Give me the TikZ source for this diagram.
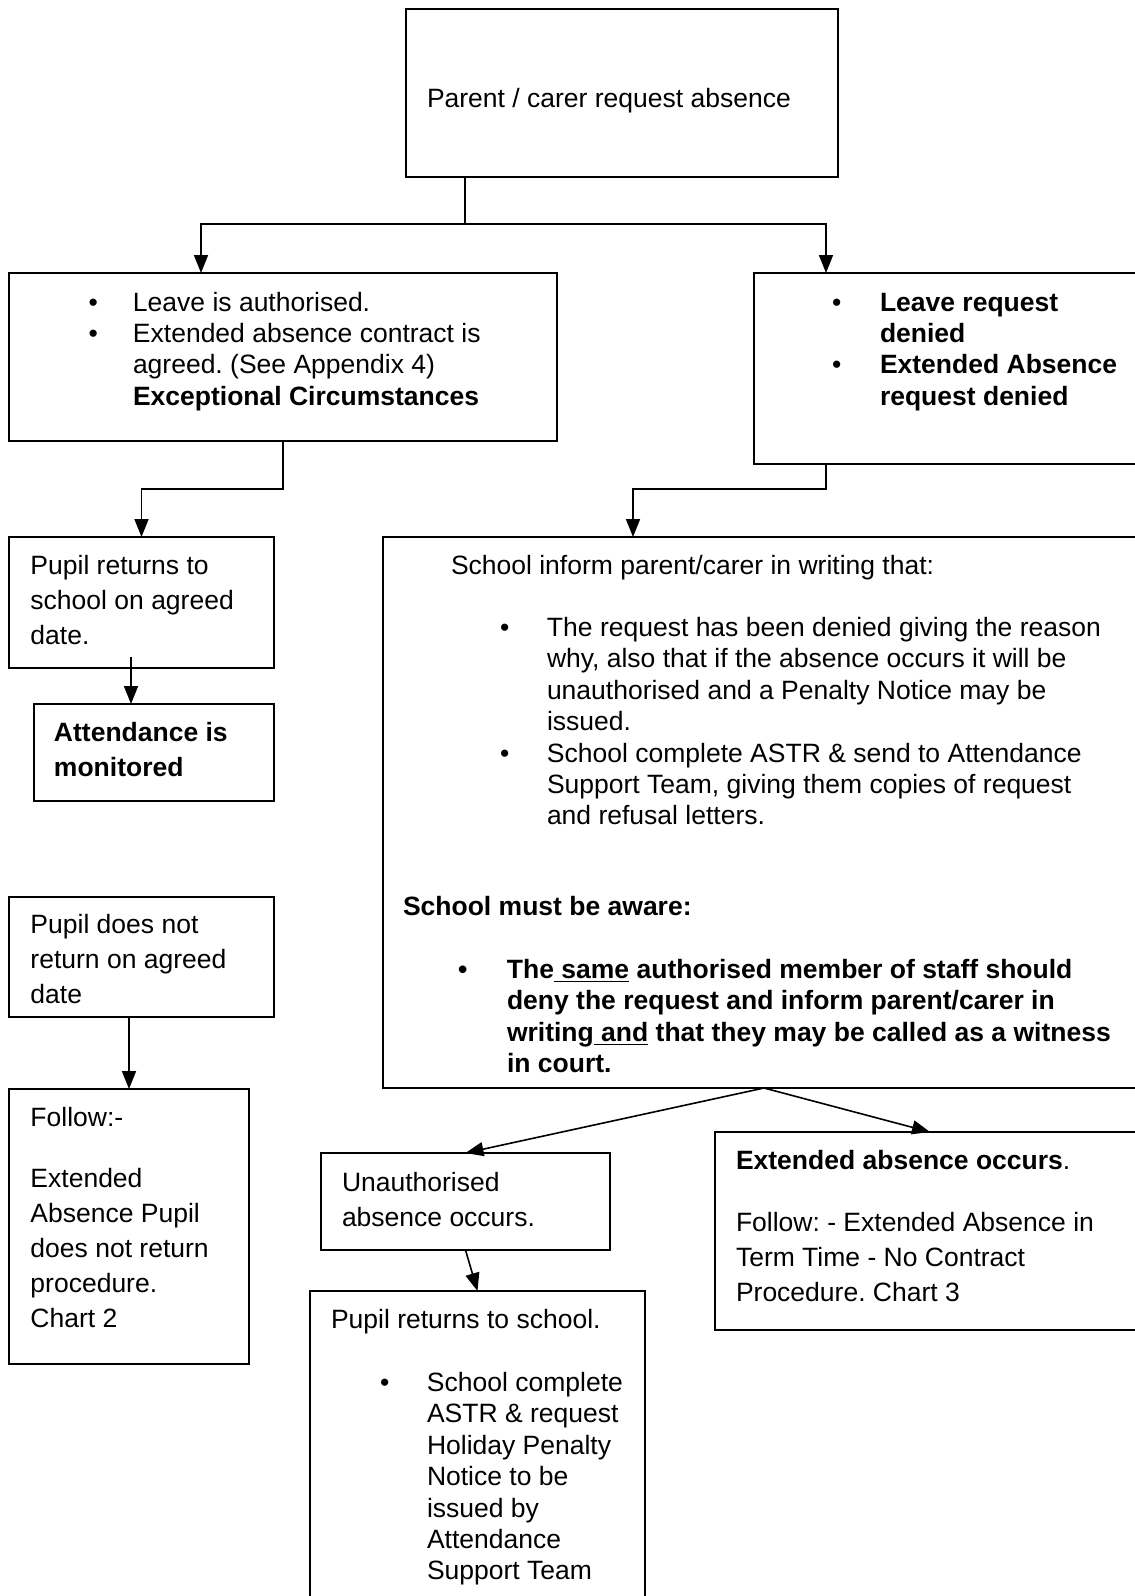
\documentclass[tikz,border=0pt]{standalone}
\usepackage{fontspec}
\setmainfont{Liberation Sans}
\usetikzlibrary{arrows.meta}
\frenchspacing
\newcommand{\fs}{\fontsize{13.25}{15.7}\selectfont}
\newcommand{\fw}{\fontsize{13.25}{17.5}\selectfont}
\newcommand{\bul}[1]{\makebox[#1][l]{\textbullet}}
\newcommand{\mybox}[5]{\node[box, minimum width={(#4-#2)*0.5pt}, minimum height={(#5-#3)*0.5pt}] (#1) at ({(#2+#4)/2},{(#3+#5)/2}) {};}
\begin{document}
\begin{tikzpicture}[x=0.5pt,y=-0.5pt,
  box/.style={draw, line width=0.8pt, inner sep=0pt, outer sep=0pt},
  txt/.style={anchor=base west, inner sep=0pt, outer sep=0pt, font=\fs},
  wtxt/.style={anchor=base west, inner sep=0pt, outer sep=0pt, font=\fw},
  arr/.style={line width=0.8pt, -{Triangle[length=9pt,width=7pt]}},
  ln/.style={line width=0.8pt}]
\useasboundingbox (0,0) rectangle (1135,1596);
\fill[white] (0,0) rectangle (1135,1596);
\clip (0,0) rectangle (1135,1596);

% boxes
\mybox{top}{406}{9}{838}{177}
\mybox{auth}{9}{273}{557}{441}
\mybox{deny}{754}{273}{1145}{464}
\mybox{ret}{9}{537}{274}{668}
\mybox{att}{34}{704}{274}{801}
\mybox{inform}{383}{537}{1145}{1088}
\mybox{notret}{9}{897}{274}{1017}
\mybox{follow}{9}{1089}{249}{1364}
\mybox{unauth}{321}{1153}{610}{1250}
\mybox{ext}{715}{1132}{1145}{1330}
\mybox{pret}{310}{1291}{645}{1620}

% texts
\node[txt] (t-top) at (427,107) {Parent / carer request absence};

\node[txt] (t-auth) at (88.5,311) {\begin{tabular}[t]{@{}l@{}l@{}}
\bul{22.25pt} & Leave is authorised.\\
\bul{22.25pt} & Extended absence contract is\\
 & agreed. (See Appendix 4)\\
 & \textbf{Exceptional Circumstances}\end{tabular}};

\node[txt] (t-deny) at (832,311) {\begin{tabular}[t]{@{}l@{}l@{}}
\bul{24pt} & \textbf{Leave request}\\
 & \textbf{denied}\\
\bul{24pt} & \textbf{Extended Absence}\\
 & \textbf{request denied}\end{tabular}};

\node[wtxt] (t-ret) at (30.5,574.5) {\begin{tabular}[t]{@{}l@{}}
Pupil returns to\\ school on agreed\\ date.\end{tabular}};

\node[wtxt] (t-att) at (54,741.5) {\begin{tabular}[t]{@{}l@{}}
\textbf{Attendance is}\\ \textbf{monitored}\end{tabular}};

\node[txt] (t-inf1) at (451,574.5) {School inform parent/carer in writing that:};
\node[txt] (t-inf2) at (500,636.5) {\begin{tabular}[t]{@{}l@{}l@{}}
\bul{23.5pt} & The request has been denied giving the reason\\
 & why, also that if the absence occurs it will be\\
 & unauthorised and a Penalty Notice may be\\
 & issued.\\
\bul{23.5pt} & School complete ASTR \& send to Attendance\\
 & Support Team, giving them copies of request\\
 & and refusal letters.\end{tabular}};
\node[txt] (t-inf3) at (403,915.5) {\textbf{School must be aware:}};
\node[txt] (t-inf4) at (458,978.5) {\bfseries\begin{tabular}[t]{@{}l@{}l@{}}
\bul{24.5pt} & The\underline{\ same} authorised member of staff should\\
 & deny the request and inform parent/carer in\\
 & writing\underline{\ and} that they may be called as a witness\\
 & in court.\end{tabular}};

\node[wtxt] (t-notret) at (30.5,933.5) {\begin{tabular}[t]{@{}l@{}}
Pupil does not\\ return on agreed\\ date\end{tabular}};

\node[wtxt] (t-follow) at (30.5,1126.5) {\begin{tabular}[t]{@{}l@{}}
Follow:-\\[13pt] Extended\\ Absence Pupil\\ does not return\\ procedure.\\ Chart 2\end{tabular}};

\node[wtxt] (t-unauth) at (342,1191.5) {\begin{tabular}[t]{@{}l@{}}
Unauthorised\\ absence occurs.\end{tabular}};

\node[wtxt] (t-ext) at (736,1169.5) {\begin{tabular}[t]{@{}l@{}}
\textbf{Extended absence occurs}.\\[13.5pt] Follow: - Extended Absence in\\ Term Time - No Contract\\ Procedure. Chart 3\end{tabular}};

\node[txt] (t-pret1) at (331,1328.5) {Pupil returns to school.};
\node[txt] (t-pret2) at (380,1391.5) {\begin{tabular}[t]{@{}l@{}l@{}}
\bul{23.5pt} & School complete\\
 & ASTR \& request\\
 & Holiday Penalty\\
 & Notice to be\\
 & issued by\\
 & Attendance\\
 & Support Team\end{tabular}};

% connectors
\coordinate (j1) at (465,224);
\coordinate (jl) at (201,224);
\coordinate (jr) at (826,224);
\draw[ln] (top.south -| j1) -- (j1);
\draw[arr] (j1) -- (jl) -- (jl |- auth.north);
\draw[arr] (j1) -- (jr) -- (jr |- deny.north);

\draw[arr] (auth.south) -- ++(0,48) -| (ret.north);
\coordinate (d1) at (826,489);
\coordinate (d2) at (633,489);
\draw[arr] (d1 |- deny.south) -- (d1) -- (d2) -- (d2 |- inform.north);

\coordinate (r1) at (131,668);
\draw[arr] ([yshift=5.5pt]r1 |- ret.south) -- (r1 |- att.north);
\draw[arr] (notret.south -| follow.north) -- (follow.north);

\draw[arr] (inform.south) -- (unauth.north);
\draw[arr] (inform.south) -- (ext.north);
\draw[arr] (unauth.south) -- (pret.north);
\end{tikzpicture}
\end{document}
